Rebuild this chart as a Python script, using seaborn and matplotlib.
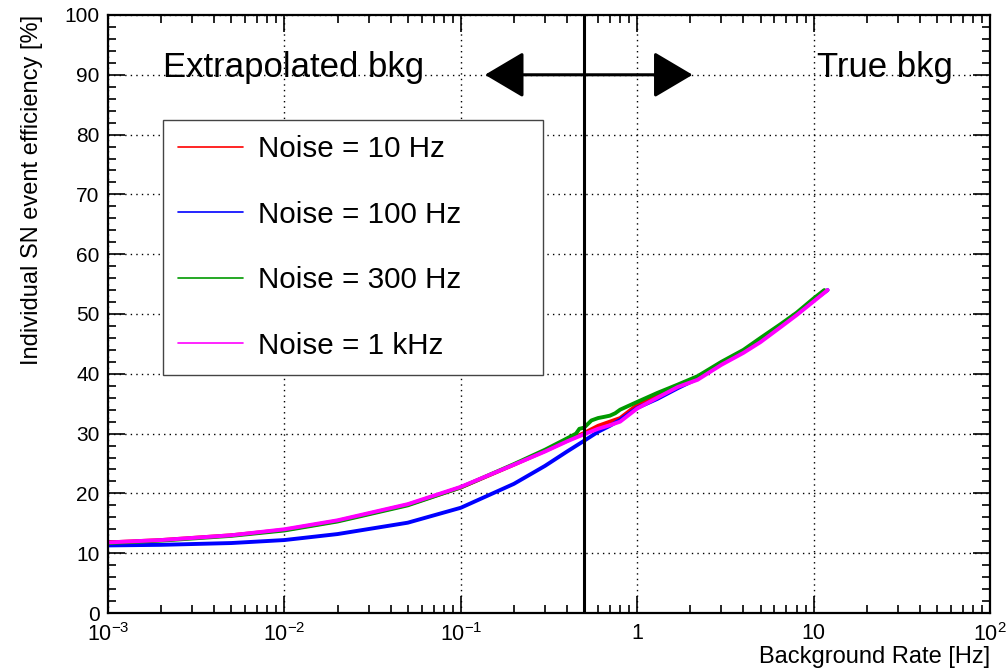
import numpy as np
import pandas as pd
import matplotlib
matplotlib.use("Agg")
import matplotlib.pyplot as plt
from matplotlib.lines import Line2D
from matplotlib.patches import FancyArrowPatch
from matplotlib.ticker import LogLocator, MultipleLocator, FixedLocator, NullFormatter
import seaborn as sns

# Efficiency vs. background rate for several noise levels
rate_10hz = [0.001, 0.002, 0.005, 0.01, 0.02, 0.05, 0.1, 0.2, 0.3, 0.4, 0.5, 0.6, 0.7, 0.8,
             1.0, 1.3, 1.7, 2.2, 3.0, 4.0, 5.0, 6.5, 8.0, 10.0, 11.5]
eff_10hz = [11.8, 12.2, 13.0, 13.9, 15.4, 18.1, 21.0, 24.8, 27.1, 28.8, 30.1, 31.3, 32.0, 32.6,
            34.8, 36.5, 38.0, 39.3, 41.8, 43.8, 45.6, 48.0, 50.0, 52.4, 53.9]

rate_100hz = [0.001, 0.002, 0.005, 0.01, 0.02, 0.05, 0.1, 0.2, 0.3, 0.4, 0.5, 0.6, 0.7, 0.8,
              1.0, 1.3, 1.7, 2.2, 3.0, 4.0, 5.0, 6.5, 8.0, 10.0, 12.0]
eff_100hz = [11.3, 11.4, 11.7, 12.2, 13.2, 15.1, 17.6, 21.6, 24.6, 27.0, 28.8, 30.3, 31.3, 32.3,
             34.3, 35.8, 37.6, 39.2, 41.7, 43.7, 45.5, 48.0, 50.0, 52.3, 54.0]

rate_300hz = [0.001, 0.002, 0.005, 0.01, 0.02, 0.05, 0.1, 0.2, 0.3, 0.4, 0.45, 0.47, 0.5, 0.55,
              0.6, 0.65, 0.7, 0.75, 0.8, 1.0, 1.3, 1.7, 2.2, 3.0, 4.0, 5.0, 6.5, 8.0, 10.0, 11.5]
eff_300hz = [11.7, 12.1, 12.9, 13.8, 15.3, 18.0, 21.0, 24.9, 27.3, 29.2, 30.0, 30.8, 31.0, 32.2,
             32.6, 32.8, 33.0, 33.4, 34.0, 35.3, 36.8, 38.2, 39.6, 42.0, 44.0, 46.0, 48.3, 50.2, 52.6, 54.0]

rate_1khz = [0.001, 0.002, 0.005, 0.01, 0.02, 0.05, 0.1, 0.2, 0.3, 0.4, 0.5, 0.6, 0.7, 0.8,
             1.0, 1.3, 1.7, 2.2, 3.0, 4.0, 5.0, 6.5, 8.0, 10.0, 12.0]
eff_1khz = [11.8, 12.2, 13.0, 14.0, 15.5, 18.2, 21.1, 24.8, 27.0, 28.7, 29.9, 30.8, 31.4, 32.0,
            34.2, 36.0, 37.8, 39.0, 41.5, 43.5, 45.3, 47.8, 49.8, 52.1, 54.0]

series_labels = ["Noise = 10 Hz", "Noise = 100 Hz", "Noise = 300 Hz", "Noise = 1 kHz"]
series_colors = ["#ff0000", "#0000ff", "#009a00", "#ff00ff"]

x_ticks = [1e-3, 1e-2, 1e-1, 1, 10, 100]
x_tick_labels = [r"$10^{-3}$", r"$10^{-2}$", r"$10^{-1}$", "1", "10", r"$10^{2}$"]
y_ticks = list(range(0, 101, 10))

split_rate = 0.5
region_left = "Extrapolated bkg"
region_right = "True bkg"

frames = []
for lab, xs, ys in zip(series_labels,
                       [rate_10hz, rate_100hz, rate_300hz, rate_1khz],
                       [eff_10hz, eff_100hz, eff_300hz, eff_1khz]):
    frames.append(pd.DataFrame({"rate": xs, "eff": ys, "noise": lab}))
df = pd.concat(frames, ignore_index=True)

sns.set_theme(style="ticks")
plt.rcParams["font.family"] = ["Liberation Sans", "DejaVu Sans"]
plt.rcParams["mathtext.fontset"] = "custom"
plt.rcParams["mathtext.rm"] = "Liberation Sans"
plt.rcParams["mathtext.it"] = "Liberation Sans:italic"
for key in ["text.color", "axes.labelcolor", "xtick.color", "ytick.color", "axes.edgecolor"]:
    plt.rcParams[key] = "black"

fig = plt.figure(figsize=(10.06, 6.69), dpi=100)
ax = fig.add_axes([0.1074, 0.0837, 0.8767, 0.8939])

sns.lineplot(data=df, x="rate", y="eff", hue="noise", hue_order=series_labels,
             palette=series_colors, estimator=None, linewidth=2.8, legend=False, ax=ax)

ax.set_xscale("log")
ax.set_xlim(1e-3, 1e2)
ax.set_ylim(0, 100)

ax.xaxis.set_major_locator(FixedLocator(x_ticks))
ax.set_xticklabels(x_tick_labels)
ax.xaxis.set_minor_locator(LogLocator(base=10, subs=np.arange(2, 10), numticks=20))
ax.xaxis.set_minor_formatter(NullFormatter())
ax.yaxis.set_major_locator(FixedLocator(y_ticks))
ax.yaxis.set_minor_locator(MultipleLocator(2))

ax.tick_params(which="both", direction="in", top=True, right=True, width=1.2, colors="black")
ax.tick_params(which="major", length=12, labelsize=15)
ax.tick_params(which="minor", length=6)
ax.tick_params(axis="y", which="major", pad=6)
ax.tick_params(axis="x", which="major", pad=7, labelsize=15.5)

for s in ax.spines.values():
    s.set_linewidth(1.6)
    s.set_color("black")

ax.grid(True, which="major", linestyle=(0, (1, 3)), color="black", linewidth=1.0)

ax.set_xlabel("Background Rate [Hz]", fontsize=17, loc="right")
ax.set_ylabel("Individual SN event efficiency [%]", fontsize=17, loc="top")
ax.xaxis.set_label_coords(1.0, -0.055)
ax.yaxis.set_label_coords(-0.074, 1.0)

# boundary between extrapolated and measured background
ax.axvline(split_rate, color="black", linewidth=2.2, zorder=5)
arrow = FancyArrowPatch((0.137, 90), (2.06, 90),
                        arrowstyle="<|-|>,head_length=2.45,head_width=1.45",
                        mutation_scale=10, color="black", linewidth=2.2,
                        shrinkA=0, shrinkB=0, zorder=6)
ax.add_patch(arrow)

ax.text(0.00205, 91.3, region_left, fontsize=25, ha="left", va="center")
ax.text(10.4, 91.3, region_right, fontsize=25, ha="left", va="center")

handles = [Line2D([], [], color=c, linewidth=1.2) for c in series_colors]
leg = ax.legend(handles, series_labels, loc="upper left",
                bbox_to_anchor=(0.0624, 0.395, 0.4306, 0.429), mode="expand",
                borderaxespad=0, fontsize=21.3, frameon=True, fancybox=False,
                handlelength=2.2, handletextpad=0.5, labelspacing=1.27,
                borderpad=0.5)
leg.get_frame().set_edgecolor("#444444")
leg.get_frame().set_linewidth(1.0)
leg.get_frame().set_facecolor("white")
leg.get_frame().set_alpha(1.0)

fig.savefig("out.png", dpi=100, facecolor="white")
